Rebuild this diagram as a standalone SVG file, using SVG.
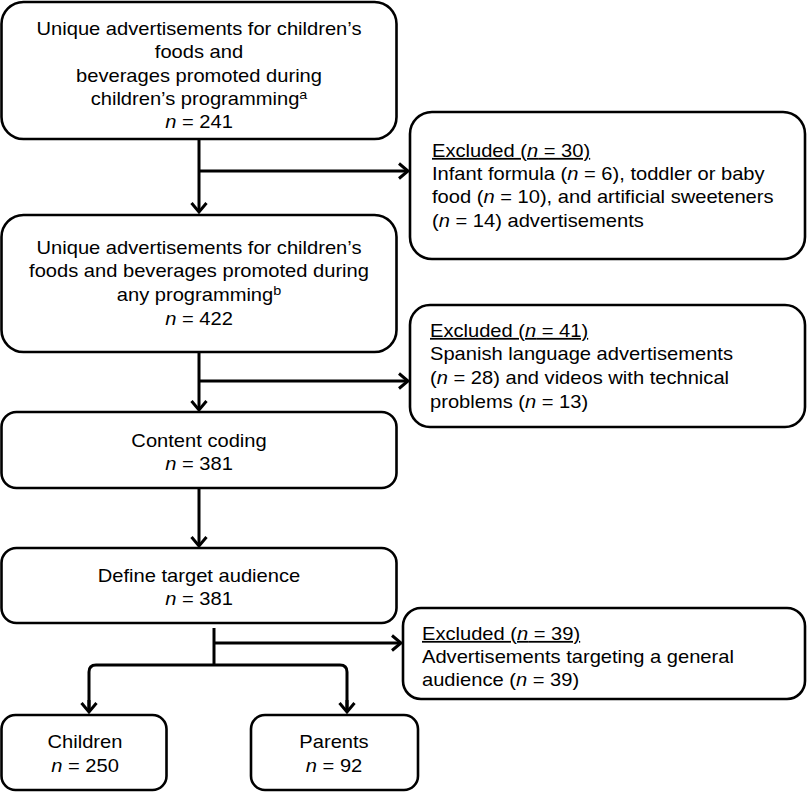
<svg xmlns="http://www.w3.org/2000/svg" width="807" height="792" viewBox="0 0 807 792">
<style>
  .box { fill: #fff; stroke: #000; stroke-width: 2.6; }
  .t { font-family: "Liberation Sans", Arial, sans-serif; font-size: 17.5px; fill: #000; }
  .c { text-anchor: middle; }
  .i { font-style: italic; }
  .sup { font-size: 12.5px; }
  .u { text-decoration: underline; }
  .con { fill: none; stroke: #000; stroke-width: 3; }
</style>
<defs>
  <marker id="arr" markerUnits="userSpaceOnUse" markerWidth="24" markerHeight="24" viewBox="-12 -12 24 24" refX="0" refY="0" orient="auto">
    <path d="M-9,-7.5 L0,0 L-9,7.5" fill="none" stroke="#000" stroke-width="3" stroke-linejoin="miter"/>
  </marker>
</defs>

<g id="connectors">
  <line class="con" x1="199" y1="139" x2="199" y2="212" marker-end="url(#arr)"/>
  <line class="con" x1="199" y1="171" x2="408" y2="171" marker-end="url(#arr)"/>
  <line class="con" x1="199" y1="352" x2="199" y2="410" marker-end="url(#arr)"/>
  <line class="con" x1="199" y1="381" x2="408" y2="381" marker-end="url(#arr)"/>
  <line class="con" x1="199" y1="488" x2="199" y2="546" marker-end="url(#arr)"/>
  <line class="con" x1="214" y1="628" x2="214" y2="665"/>
  <line class="con" x1="214" y1="643" x2="401" y2="643" marker-end="url(#arr)"/>
  <path class="con" d="M89,712 L89,672 Q89,665 96,665 L340,665 Q347,665 347,672 L347,712"/>
  <line class="con" x1="89" y1="700" x2="89" y2="712" marker-end="url(#arr)"/>
  <line class="con" x1="347" y1="700" x2="347" y2="712" marker-end="url(#arr)"/>
</g>

<g id="n1">
  <rect class="box" x="1.5" y="2" width="395" height="137" rx="22"/>
  <g transform="translate(199,0) scale(1.15,1)">
    <text class="t c" x="0" y="35">Unique advertisements for children’s</text>
    <text class="t c" x="0" y="58">foods and</text>
    <text class="t c" x="0" y="82">beverages promoted during</text>
    <text class="t c" x="0" y="105">children’s programming<tspan class="sup" dy="-6">a</tspan></text>
    <text class="t c" x="0" y="128"><tspan class="i">n</tspan> = 241</text>
  </g>
</g>

<g id="ex1">
  <rect class="box" x="410" y="112" width="395" height="147" rx="22"/>
  <g transform="translate(432,0) scale(1.15,1)">
    <text class="t" x="0" y="157"><tspan class="u">Excluded (<tspan class="i">n</tspan> = 30)</tspan></text>
    <text class="t" x="0" y="180">Infant formula (<tspan class="i">n</tspan> = 6), toddler or baby</text>
    <text class="t" x="0" y="203">food (<tspan class="i">n</tspan> = 10), and artificial sweeteners</text>
    <text class="t" x="0" y="227">(<tspan class="i">n</tspan> = 14) advertisements</text>
  </g>
</g>

<g id="n2">
  <rect class="box" x="1.5" y="215" width="395" height="137" rx="22"/>
  <g transform="translate(199,0) scale(1.15,1)">
    <text class="t c" x="0" y="254">Unique advertisements for children’s</text>
    <text class="t c" x="0" y="277">foods and beverages promoted during</text>
    <text class="t c" x="0" y="301">any programming<tspan class="sup" dy="-6">b</tspan></text>
    <text class="t c" x="0" y="325"><tspan class="i">n</tspan> = 422</text>
  </g>
</g>

<g id="ex2">
  <rect class="box" x="410" y="305" width="395" height="122" rx="20"/>
  <g transform="translate(430,0) scale(1.15,1)">
    <text class="t" x="0" y="337"><tspan class="u">Excluded (<tspan class="i">n</tspan> = 41)</tspan></text>
    <text class="t" x="0" y="360">Spanish language advertisements</text>
    <text class="t" x="0" y="384">(<tspan class="i">n</tspan> = 28) and videos with technical</text>
    <text class="t" x="0" y="408">problems (<tspan class="i">n</tspan> = 13)</text>
  </g>
</g>

<g id="n3">
  <rect class="box" x="1.5" y="412" width="395" height="76" rx="15"/>
  <g transform="translate(199,0) scale(1.15,1)">
    <text class="t c" x="0" y="447">Content coding</text>
    <text class="t c" x="0" y="470"><tspan class="i">n</tspan> = 381</text>
  </g>
</g>

<g id="n4">
  <rect class="box" x="1.5" y="548" width="395" height="75" rx="15"/>
  <g transform="translate(199,0) scale(1.15,1)">
    <text class="t c" x="0" y="582">Define target audience</text>
    <text class="t c" x="0" y="605"><tspan class="i">n</tspan> = 381</text>
  </g>
</g>

<g id="ex3">
  <rect class="box" x="403" y="608" width="402" height="91" rx="18"/>
  <g transform="translate(422,0) scale(1.15,1)">
    <text class="t" x="0" y="640"><tspan class="u">Excluded (<tspan class="i">n</tspan> = 39)</tspan></text>
    <text class="t" x="0" y="663">Advertisements targeting a general</text>
    <text class="t" x="0" y="686">audience (<tspan class="i">n</tspan> = 39)</text>
  </g>
</g>

<g id="n5">
  <rect class="box" x="1.5" y="715" width="165" height="75" rx="14"/>
  <g transform="translate(85,0) scale(1.15,1)">
    <text class="t c" x="0" y="748">Children</text>
    <text class="t c" x="0" y="772"><tspan class="i">n</tspan> = 250</text>
  </g>
</g>

<g id="n6">
  <rect class="box" x="251" y="715" width="167" height="75" rx="14"/>
  <g transform="translate(334,0) scale(1.15,1)">
    <text class="t c" x="0" y="748">Parents</text>
    <text class="t c" x="0" y="772"><tspan class="i">n</tspan> = 92</text>
  </g>
</g>
</svg>
